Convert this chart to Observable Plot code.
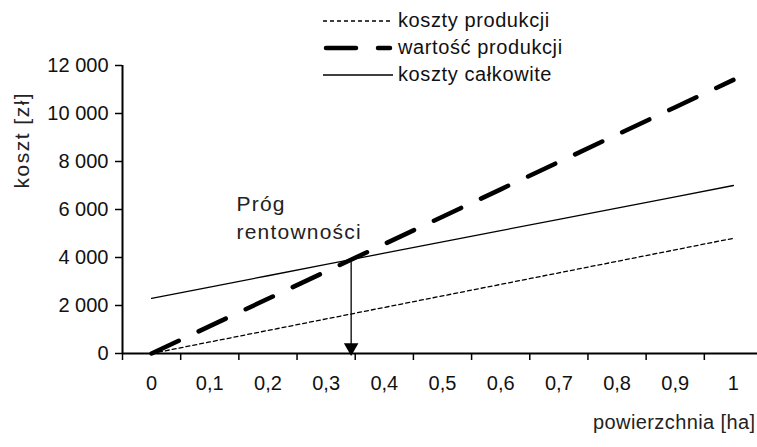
<!DOCTYPE html>
<html>
<head>
<meta charset="utf-8">
<script src="https://cdn.jsdelivr.net/npm/d3@7"></script>
<script src="https://cdn.jsdelivr.net/npm/@observablehq/plot@0.6"></script>
<style>
  body { margin: 0; background: #fff; }
  #wrap { position: relative; width: 757px; height: 447px; font-family: "Liberation Sans", Arial, sans-serif; }
  #legend { position: absolute; left: 323px; top: 7px; font-size: 20px; letter-spacing: 0.6px; color: #111; }
  #legend .row { display: flex; align-items: center; height: 27px; }
  #legend svg { display: block; margin-right: 5px; }
</style>
</head>
<body>
<div id="wrap"></div>
<script>
// categories (powierzchnia [ha])
const area = [0, 0.1, 0.2, 0.3, 0.4, 0.5, 0.6, 0.7, 0.8, 0.9, 1];
const areaLabels = ["0", "0,1", "0,2", "0,3", "0,4", "0,5", "0,6", "0,7", "0,8", "0,9", "1"];
// series (koszt [zł])
const kosztyProdukcji = [0, 480, 960, 1440, 1920, 2400, 2880, 3360, 3840, 4320, 4800];
const wartoscProdukcji = [0, 1140, 2280, 3420, 4560, 5700, 6840, 7980, 9120, 10260, 11400];
const kosztyCalkowite = [2300, 2770, 3240, 3710, 4180, 4650, 5120, 5590, 6060, 6530, 7000];
// y ticks
const yTicks = [0, 2000, 4000, 6000, 8000, 10000, 12000];
const yTickLabels = ["0", "2 000", "4 000", "6 000", "8 000", "10 000", "12 000"];
// category boundaries (tick marks between categories)
const xTickMarks = [-0.05, 0.05, 0.15, 0.25, 0.35, 0.45, 0.55, 0.65, 0.75, 0.85, 0.95];
// break-even point
const breakEven = {x: 0.343, top: 3800};

const data = area.map((x, i) => ({x, kp: kosztyProdukcji[i], wp: wartoscProdukcji[i], kc: kosztyCalkowite[i]}));

const chart = Plot.plot({
  width: 757,
  height: 447,
  marginLeft: 122,
  marginRight: 0,
  marginTop: 65,
  marginBottom: 94,
  style: {fontFamily: '"Liberation Sans", Arial, sans-serif', fontSize: "20px", color: "#111", background: "#fff", overflow: "visible"},
  x: {domain: [-0.05, 1.05], range: [122, 762]},
  y: {domain: [0, 12000]},
  marks: [
    // y axis
    Plot.axisY(yTicks, {tickSize: 7, tickPadding: 7, fontSize: 20, tickFormat: d => yTickLabels[yTicks.indexOf(d)], label: null, stroke: "#000", strokeWidth: 1.5}),
    Plot.ruleX([-0.05], {y1: 0, y2: 12000, stroke: "#000", strokeWidth: 2}),
    // x axis
    Plot.axisX(xTickMarks, {tickSize: 7, tickFormat: () => "", label: null, stroke: "#000", strokeWidth: 1.5}),
    Plot.axisX(area, {tickSize: 0, tickPadding: 22, fontSize: 20, tickFormat: d => areaLabels[area.indexOf(d)], label: null}),
    // lines
    Plot.line(data, {x: "x", y: "kp", stroke: "#000", strokeWidth: 1.3, strokeDasharray: "4,3"}),
    Plot.line(data, {x: "x", y: "kc", stroke: "#000", strokeWidth: 1.3}),
    Plot.line(data, {x: "x", y: "wp", stroke: "#000", strokeWidth: 4.5, strokeDasharray: "30,22", strokeLinecap: "round"}),
    Plot.ruleY([0], {x1: -0.05, x2: 1.05, stroke: "#000", strokeWidth: 2}),
    // break-even arrow
    Plot.ruleX([breakEven], {x: "x", y1: "top", y2: 0, stroke: "#000", strokeWidth: 1.3}),
    Plot.dot([breakEven], {x: "x", y: 0, symbol: "triangle", rotate: 180, r: 5.4, fill: "#000", stroke: "none", dy: -6}),
    Plot.text(["Próg\nrentowności"], {x: 0.146, y: 6750, text: d => d, textAnchor: "start", lineAnchor: "top", lineHeight: 1.33, fontSize: 21, fill: "#222"}),
    // axis titles
    Plot.text(["koszt [zł]"], {frameAnchor: "left", dx: -100, dy: -21, rotate: -90, text: d => d, fontSize: 21, fill: "#222"}),
    Plot.text(["powierzchnia [ha]"], {frameAnchor: "bottom-right", dy: 75, dx: -2, textAnchor: "end", text: d => d, fontSize: 20, fill: "#222"})
  ]
});

const spacing = {"koszt [zł]": "1.5px", "Prógrentowności": "1.2px", "powierzchnia [ha]": "0.4px"};
d3.select(chart).selectAll("text").each(function() {
  const s = spacing[this.textContent];
  if (s) this.style.letterSpacing = s;
});

const wrap = document.getElementById("wrap");
wrap.appendChild(chart);

const legendItems = [
  {label: "koszty produkcji", width: 1.3, dash: "4,3", cap: "butt"},
  {label: "wartość produkcji", width: 4.5, dash: "30,22", cap: "round"},
  {label: "koszty całkowite", width: 1.3, dash: null, cap: "butt"}
];
const legend = document.createElement("div");
legend.id = "legend";
for (const it of legendItems) {
  const row = document.createElement("div");
  row.className = "row";
  row.innerHTML = `<svg width="70" height="10"><line x1="${it.cap === "round" ? 3 : 0}" y1="5" x2="${it.cap === "round" ? 67 : 70}" y2="5" stroke="#000" stroke-width="${it.width}" ${it.dash ? `stroke-dasharray="${it.dash}"` : ""} stroke-linecap="${it.cap}"/></svg><span>${it.label}</span>`;
  legend.appendChild(row);
}
wrap.appendChild(legend);
</script>
</body>
</html>
